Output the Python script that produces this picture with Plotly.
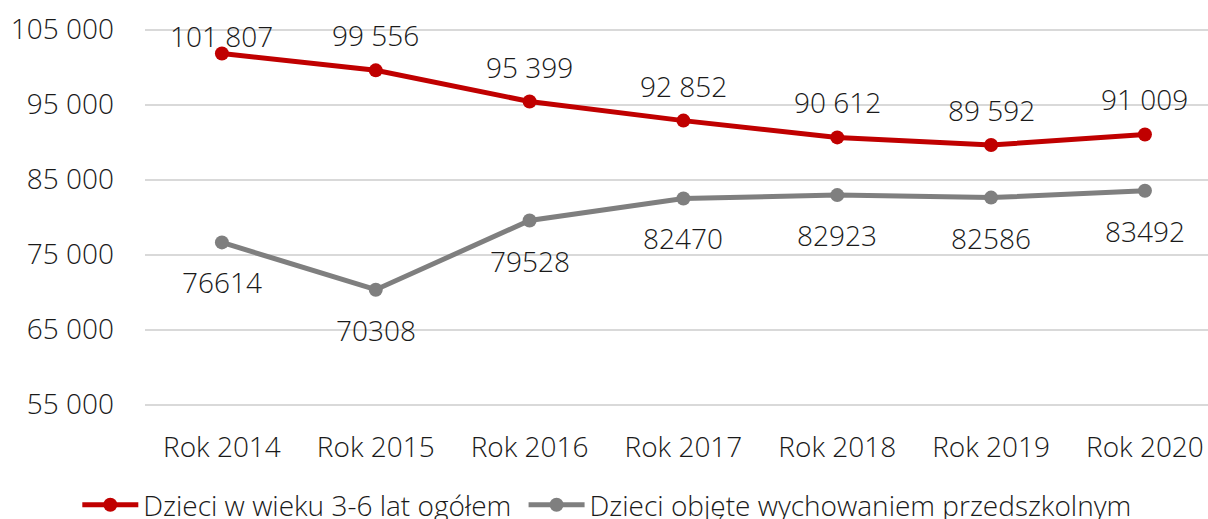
import plotly.graph_objects as go

categories = ["Rok 2014", "Rok 2015", "Rok 2016", "Rok 2017", "Rok 2018", "Rok 2019", "Rok 2020"]
total_children = [101807, 99556, 95399, 92852, 90612, 89592, 91009]
preschool_children = [76614, 70308, 79528, 82470, 82923, 82586, 83492]
y_ticks = [55000, 65000, 75000, 85000, 95000, 105000]
series_names = ["Dzieci w wieku 3-6 lat ogółem", "Dzieci objęte wychowaniem przedszkolnym"]

RED = "#C00000"
GRAY = "#7F7F7F"
FONT = "Open Sans"
FS = 28
TXT = "#1a1a1a"
PAD = "\u00a0"

fig = go.Figure()
fig.add_trace(go.Scatter(
    x=categories, y=total_children, mode="lines+markers",
    name=series_names[0] + PAD,
    line=dict(color=RED, width=5), marker=dict(color=RED, size=14),
))
fig.add_trace(go.Scatter(
    x=categories, y=preschool_children, mode="lines+markers",
    name=series_names[1],
    line=dict(color=GRAY, width=5), marker=dict(color=GRAY, size=14),
))

annotations = []
for i, (c, v) in enumerate(zip(categories, total_children)):
    annotations.append(dict(
        x=c, y=v, xref="x", yref="y", text=f"{v:,}".replace(",", " "),
        showarrow=False, yshift=17 if i == 0 else 35,
        font=dict(family=FONT, size=FS, color=TXT, weight=300),
    ))
for c, v in zip(categories, preschool_children):
    annotations.append(dict(
        x=c, y=v, xref="x", yref="y", text=str(v),
        showarrow=False, yshift=-40,
        font=dict(family=FONT, size=FS, color=TXT, weight=300),
    ))

fig.update_layout(
    width=1208, height=519,
    margin=dict(l=145, r=0, t=27.5, b=112.5, autoexpand=False),
    paper_bgcolor="white", plot_bgcolor="white",
    separators=", ",
    font=dict(family=FONT, size=FS, color=TXT, weight=300),
    showlegend=True,
    legend=dict(
        orientation="h", xref="container", yref="container",
        x=0.064, y=0.027, xanchor="left", yanchor="middle",
        font=dict(family=FONT, size=28, color=TXT, weight=300),
        itemwidth=56, tracegroupgap=0,
    ),
    annotations=annotations,
    xaxis=dict(
        type="category", range=[-0.5, 6.41],
        showgrid=False, zeroline=False, showline=False,
        ticks="", ticklabelstandoff=22,
        tickfont=dict(family=FONT, size=FS, color=TXT, weight=300),
    ),
    yaxis=dict(
        range=[54800, 105200], tickvals=y_ticks, tickformat=",d",
        showgrid=True, gridcolor="#D9D9D9", gridwidth=1.5,
        zeroline=False, showline=False, ticks="",
        ticklabelstandoff=30,
        tickfont=dict(family=FONT, size=FS, color=TXT, weight=300),
    ),
)

fig.write_html("out.html", config={"displayModeBar": False},
               post_script="document.body.style.margin='0';")
